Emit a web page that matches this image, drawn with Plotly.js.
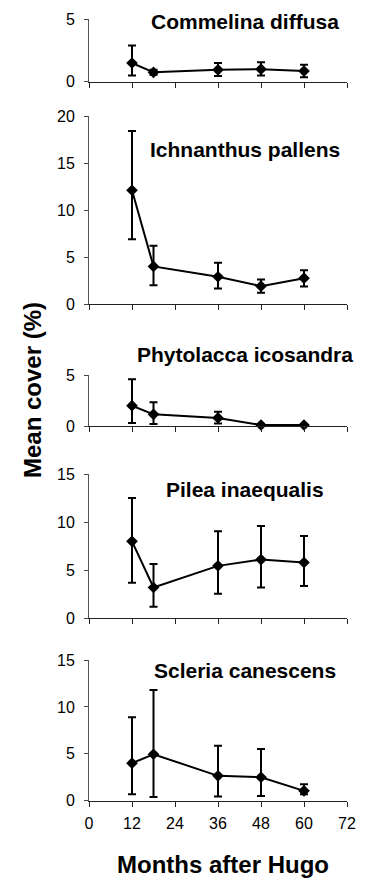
<!DOCTYPE html>
<html>
<head>
<meta charset="utf-8">
<script src="https://cdn.plot.ly/plotly-3.0.1.min.js"></script>
<style>html,body{margin:0;padding:0;background:#fff;}#chart{width:365px;height:881px;}</style>
</head>
<body>
<div id="chart"></div>
<script>
// Months after Hurricane Hugo
const months = [12, 18, 36, 48, 60];
const xTicks = [0, 12, 24, 36, 48, 60, 72];

const speciesNames = ["Commelina diffusa", "Ichnanthus pallens", "Phytolacca icosandra", "Pilea inaequalis", "Scleria canescens"];

const commelinaMean  = [1.5, 0.75, 0.95, 1.0, 0.85];
const commelinaPlus  = [1.4, 0.2, 0.55, 0.55, 0.5];
const commelinaMinus = [1.0, 0.2, 0.5, 0.5, 0.5];

const ichnanthusMean  = [12.1, 4.0, 2.9, 1.9, 2.75];
const ichnanthusPlus  = [6.3, 2.2, 1.5, 0.7, 0.85];
const ichnanthusMinus = [5.2, 2.0, 1.25, 0.7, 0.9];

const phytolaccaMean  = [2.0, 1.15, 0.8, 0.1, 0.1];
const phytolaccaPlus  = [2.6, 1.2, 0.6, 0, 0];
const phytolaccaMinus = [1.7, 0.95, 0.55, 0, 0];

const pileaMean  = [8.0, 3.2, 5.45, 6.1, 5.8];
const pileaPlus  = [4.5, 2.45, 3.6, 3.5, 2.75];
const pileaMinus = [4.3, 2.0, 2.9, 2.9, 2.45];

const scleriaMean  = [4.0, 4.95, 2.65, 2.5, 1.05];
const scleriaPlus  = [4.9, 6.85, 3.2, 3.0, 0.7];
const scleriaMinus = [3.3, 4.55, 2.2, 2.0, 0.35];

const yMax = [5, 20, 5, 15, 15];

const series = [
  [commelinaMean, commelinaPlus, commelinaMinus],
  [ichnanthusMean, ichnanthusPlus, ichnanthusMinus],
  [phytolaccaMean, phytolaccaPlus, phytolaccaMinus],
  [pileaMean, pileaPlus, pileaMinus],
  [scleriaMean, scleriaPlus, scleriaMinus]
];

// panel pixel extents (top, bottom) in a 881px tall page
const H = 881, W = 365;
const panelPx = [[19.3, 81.7], [116, 304], [375.3, 426], [474, 618.3], [660, 800.7]];
const titleY = [21, 150, 354, 489, 670];

const FONT = "Liberation Sans, Arial, sans-serif";
const traces = [];
const layout = {
  width: W, height: H,
  margin: {l: 89, r: 18, t: 0, b: 0},
  paper_bgcolor: "#fff", plot_bgcolor: "#fff",
  showlegend: false,
  font: {family: FONT, color: "#000", size: 15},
  annotations: []
};

series.forEach((s, i) => {
  const n = i + 1;
  const xa = n === 1 ? "x" : "x" + n;
  const ya = n === 1 ? "y" : "y" + n;
  traces.push({
    type: "scatter", mode: "lines+markers",
    x: months, y: s[0],
    xaxis: xa, yaxis: ya,
    cliponaxis: false,
    line: {color: "#000", width: 2},
    marker: {symbol: "diamond", size: 9, color: "#000"},
    error_y: {type: "data", symmetric: false, array: s[1], arrayminus: s[2],
              color: "#000", thickness: 2, width: 4}
  });
  const dom = [1 - panelPx[i][1] / H, 1 - panelPx[i][0] / H];
  layout[(n === 1 ? "xaxis" : "xaxis" + n)] = {
    anchor: ya, domain: [0, 1], range: [0, 72],
    tickvals: xTicks, ticktext: xTicks.map(String),
    showticklabels: n === 5,
    ticks: "outside", ticklen: 5, tickwidth: 1, tickcolor: "#222",
    showline: true, linecolor: "#222", linewidth: 1,
    showgrid: false, zeroline: false,
    tickfont: {family: FONT, size: 16, color: "#000"},
    ticklabelstandoff: 3
  };
  const yt = [];
  for (let v = 0; v <= yMax[i]; v += 5) yt.push(v);
  layout[(n === 1 ? "yaxis" : "yaxis" + n)] = {
    anchor: xa, domain: dom, range: [0, yMax[i]],
    tickvals: yt, ticktext: yt.map(String),
    ticks: "outside", ticklen: 4, tickwidth: 1, tickcolor: "#444",
    showline: true, linecolor: "#555", linewidth: 1,
    showgrid: false, zeroline: false,
    tickfont: {family: FONT, size: 16, color: "#000"},
    ticklabelstandoff: 6
  };
  layout.annotations.push({
    text: "<b>" + speciesNames[i] + "</b>",
    xref: "paper", yref: "paper",
    x: (245 - 89) / (W - 89 - 18), y: 1 - titleY[i] / H,
    xanchor: "center", yanchor: "middle", showarrow: false,
    font: {family: FONT, size: 21, color: "#000"}
  });
});

layout.annotations.push({
  text: "<b>Mean cover (%)</b>", textangle: -90,
  xref: "paper", yref: "paper",
  x: (33 - 89) / (W - 89 - 18), y: 1 - 390 / H,
  xanchor: "center", yanchor: "middle", showarrow: false,
  font: {family: FONT, size: 24, color: "#000"}
});
layout.annotations.push({
  text: "<b>Months after Hugo</b>",
  xref: "paper", yref: "paper",
  x: (223 - 89) / (W - 89 - 18), y: 1 - 864 / H,
  xanchor: "center", yanchor: "middle", showarrow: false,
  font: {family: FONT, size: 24, color: "#000"}
});

Plotly.newPlot("chart", traces, layout, {staticPlot: true, displayModeBar: false});
</script>
</body>
</html>
